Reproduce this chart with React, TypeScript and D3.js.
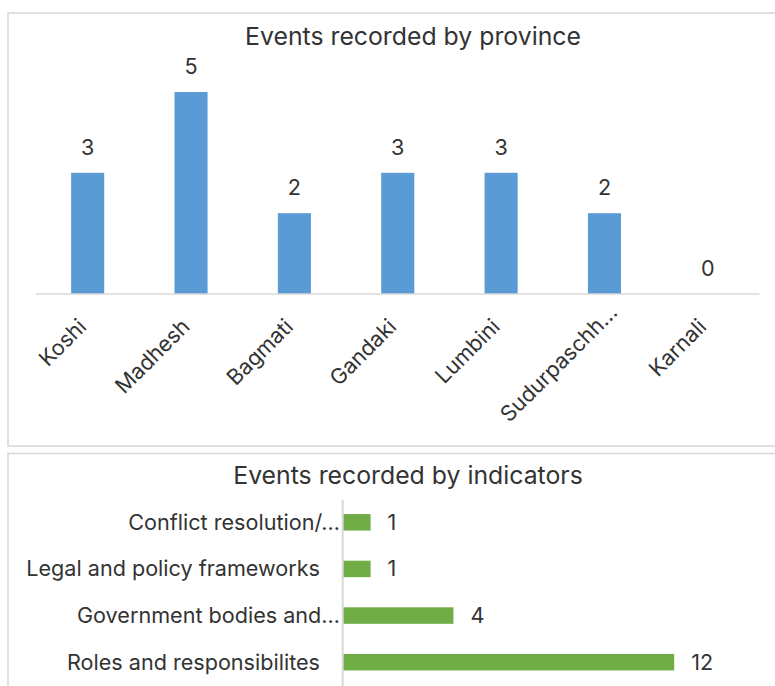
import React from "react";
import * as d3 from "d3";

const provinces = ["Koshi", "Madhesh", "Bagmati", "Gandaki", "Lumbini", "Sudurpaschh…", "Karnali"];
const provinceEvents = [3, 5, 2, 3, 3, 2, 0];
const indicators = [
  "Conflict resolution/…",
  "Legal and policy frameworks",
  "Government bodies and…",
  "Roles and responsibilites",
];
const indicatorEvents = [1, 1, 4, 12];

const FONT = "Inter, 'Open Sans', sans-serif";
const TEXT = "#333333";
const GRID = "#d9d9d9";
const BLUE = "#5b9bd5";
const GREEN = "#70ad47";

export default function App() {
  // top chart scales
  const x = d3.scaleBand<string>().domain(provinces).range([36, 759.5]).paddingInner(0.68).paddingOuter(0.34);
  const y = d3.scaleLinear().domain([0, 6]).range([294, 51.6]);

  // bottom chart scales
  const yb = d3.scaleBand<string>().domain(indicators).range([499, 685.5]).paddingInner(0.646).paddingOuter(0.323);
  const xb = d3.scaleLinear().domain([0, 14]).range([343, 729.4]);

  const labelSize = 21.6;
  const titleSize = 24.8;

  return (
    <svg width={775} height={686} style={{ position: "absolute", left: 0, top: 0, background: "#fff" }} fontFamily={FONT}>
      <rect x={0} y={0} width={775} height={686} fill="#fff" />
      {/* panels */}
      <rect x={8} y={13} width={800} height={433} fill="#fff" stroke={GRID} strokeWidth={1.6} />
      <rect x={8} y={453.5} width={800} height={300} fill="#fff" stroke={GRID} strokeWidth={1.6} />

      {/* top chart */}
      <text x={413} y={44.5} textAnchor="middle" fontSize={titleSize} fill={TEXT}>
        Events recorded by province
      </text>
      {provinces.map((p, i) => (
        <rect key={p} x={x(p)} y={y(provinceEvents[i])} width={x.bandwidth()} height={y(0) - y(provinceEvents[i])} fill={BLUE} />
      ))}
      <line x1={36} x2={759.5} y1={y(0)} y2={y(0)} stroke={GRID} strokeWidth={1.6} />
      {provinces.map((p, i) => (
        <text
          key={"v" + p}
          x={(x(p) as number) + x.bandwidth() / 2}
          y={y(provinceEvents[i]) - 18}
          textAnchor="middle"
          fontSize={labelSize}
          fill={TEXT}
        >
          {provinceEvents[i]}
        </text>
      ))}
      {provinces.map((p) => (
        <text
          key={"c" + p}
          transform={`translate(${(x(p) as number) + x.bandwidth() / 2},${y(0) + 34}) rotate(-45)`}
          x={p.endsWith("…") ? 20 : 0}
          textAnchor="end"
          fontSize={labelSize}
          fill={TEXT}
        >
          {p}
        </text>
      ))}

      {/* bottom chart */}
      <text x={408} y={484.3} textAnchor="middle" fontSize={titleSize} fill={TEXT}>
        Events recorded by indicators
      </text>
      {indicators.map((c, i) => (
        <rect key={c} x={xb(0)} y={yb(c)} width={xb(indicatorEvents[i]) - xb(0)} height={yb.bandwidth()} fill={GREEN} />
      ))}
      <line x1={342.7} x2={342.7} y1={500} y2={690} stroke={GRID} strokeWidth={2} />
      {indicators.map((c, i) => (
        <text
          key={"v" + c}
          x={xb(indicatorEvents[i]) + 17}
          y={(yb(c) as number) + yb.bandwidth() / 2 + 7.5}
          fontSize={labelSize}
          fill={TEXT}
        >
          {indicatorEvents[i]}
        </text>
      ))}
      {indicators.map((c) => (
        <text
          key={"c" + c}
          x={c.endsWith("…") ? 340 : 320}
          y={(yb(c) as number) + yb.bandwidth() / 2 + 7.5}
          textAnchor="end"
          fontSize={labelSize}
          fill={TEXT}
        >
          {c}
        </text>
      ))}
    </svg>
  );
}
